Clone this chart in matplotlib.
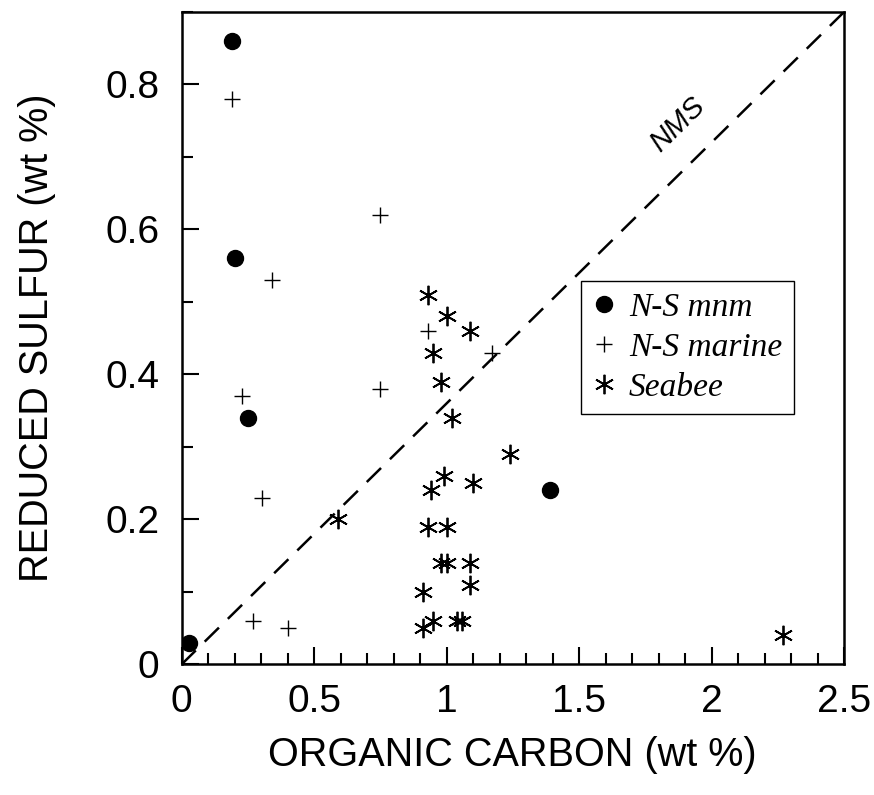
import matplotlib.pyplot as plt
from matplotlib.ticker import MultipleLocator

# N-S mnm (filled circles)
mnm_c = [0.19, 0.20, 0.25, 1.39, 0.03]
mnm_s = [0.86, 0.56, 0.34, 0.24, 0.03]

# N-S marine (plus)
marine_c = [0.19, 0.75, 0.34, 0.23, 0.93, 1.17, 0.75, 0.305, 0.27, 0.40]
marine_s = [0.78, 0.62, 0.53, 0.37, 0.46, 0.43, 0.38, 0.23, 0.06, 0.05]

# Seabee (asterisks)
seabee_c = [0.93, 1.00, 1.09, 0.95, 0.98, 1.02, 1.24, 0.99, 1.10, 0.94,
            0.59, 0.93, 1.00, 0.98, 1.00, 1.09, 1.09, 0.91, 0.91, 0.95,
            1.04, 1.06, 2.27]
seabee_s = [0.51, 0.48, 0.46, 0.43, 0.39, 0.34, 0.29, 0.26, 0.25, 0.24,
            0.20, 0.19, 0.19, 0.14, 0.14, 0.14, 0.11, 0.10, 0.05, 0.06,
            0.06, 0.06, 0.04]

# normal marine sediment line S = 0.36 C
nms_c = [0, 2.5]
nms_s = [0, 0.9]

sans = ["Liberation Sans", "DejaVu Sans"]

fig = plt.figure(figsize=(8.74, 7.95), dpi=100)
ax = fig.add_axes([0.2077, 0.1642, 0.758, 0.8207])

ax.plot(nms_c, nms_s, color="black", lw=1.8, dashes=(8, 5))
ax.plot(mnm_c, mnm_s, "o", color="black", ms=11.5, ls="none", label="N-S mnm")
ax.plot(marine_c, marine_s, "+", color="black", ms=12, mew=1.0, ls="none",
        label="N-S marine")
ax.plot(seabee_c, seabee_s, marker=(6, 2, 0), color="black", ms=14, mew=1.3,
        ls="none", label="Seabee")

ax.text(1.87, 0.745, "NMS", rotation=44.5, ha="center", va="center",
        fontsize=21, style="italic", family=sans)

ax.set_xlim(0, 2.5)
ax.set_ylim(0, 0.9)
ax.xaxis.set_minor_locator(MultipleLocator(0.1))
ax.yaxis.set_minor_locator(MultipleLocator(0.1))
ax.set_xticks([0, 0.5, 1, 1.5, 2, 2.5])
ax.set_xticklabels(["0", "0.5", "1", "1.5", "2", "2.5"])
ax.set_yticks([0, 0.2, 0.4, 0.6, 0.8])
ax.set_yticklabels(["0", "0.2", "0.4", "0.6", "0.8"])

ax.tick_params(which="both", direction="in", top=False, right=False,
               width=1.5, labelsize=28)
ax.tick_params(which="major", length=12.5)
ax.tick_params(which="minor", length=8)
ax.tick_params(axis="x", which="major", pad=14)
ax.tick_params(axis="y", which="major", pad=16)
for lbl in ax.get_xticklabels() + ax.get_yticklabels():
    lbl.set_family(sans)
for sp in ax.spines.values():
    sp.set_linewidth(1.8)

ax.set_xlabel("ORGANIC CARBON (wt %)", fontsize=28.5, family=sans, va="center")
ax.set_ylabel("REDUCED SULFUR (wt %)", fontsize=28.5, family=sans, va="center")
ax.xaxis.set_label_coords(0.5, -0.139)
ax.yaxis.set_label_coords(-0.218, 0.5)

leg = ax.legend(loc="upper left", bbox_to_anchor=(0.6026, 0.588),
                borderaxespad=0, fancybox=False, framealpha=1,
                edgecolor="black", handlelength=0.7, handletextpad=0.4,
                borderpad=0.35, labelspacing=0.28,
                prop={"family": "Liberation Serif", "style": "italic",
                      "size": 24})
leg.get_frame().set_linewidth(1.0)

fig.savefig("out.png", dpi=100)
